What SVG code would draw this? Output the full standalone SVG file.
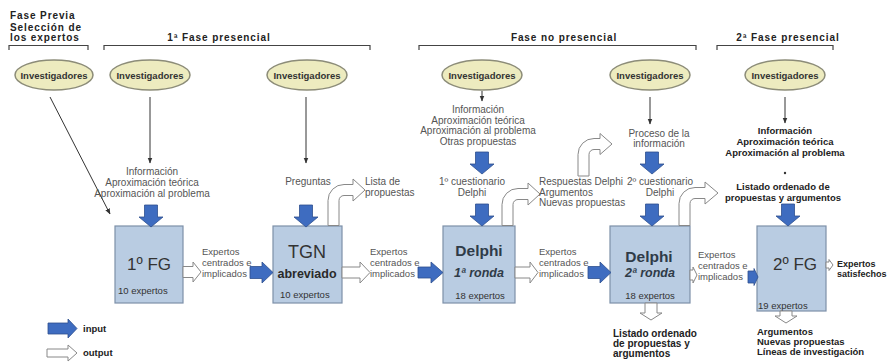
<svg xmlns="http://www.w3.org/2000/svg" width="889" height="362" viewBox="0 0 889 362">
<style>
text{font-family:"Liberation Sans",Arial,sans-serif}
.hdr{font-size:10px;font-weight:bold;letter-spacing:0.9px;fill:#222}
.ell{fill:#EDEBBF;stroke:#8C8C78;stroke-width:1.5}
.elt{font-size:9.5px;font-weight:bold;fill:#333;text-anchor:middle}
.box{fill:#B9CCE2;stroke:#7D90A8;stroke-width:1.2}
.sm{font-size:10px;fill:#555}
.mid{text-anchor:middle}
.gl{font-size:9.5px;fill:#555}
.bd{font-size:9.5px;font-weight:bold;fill:#222}
.bd10{font-size:10px;font-weight:bold;fill:#222}
.big{font-size:17px;fill:#333;text-anchor:middle}
.dl{font-size:15.5px;font-weight:bold;fill:#2F3B48;text-anchor:middle}
.rn{font-size:12.5px;font-weight:bold;font-style:italic;fill:#2F3B48;text-anchor:middle}
.ex{font-size:9.5px;fill:#333}
.blue{fill:#3E6CC0;stroke:#2D4F8E;stroke-width:0.8}
.wht{fill:#fff;stroke:#888;stroke-width:1}
.ln{stroke:#333;stroke-width:1;fill:none}
.br{stroke:#444;stroke-width:1.2;fill:none}
</style>
<defs>
<marker id="ah" viewBox="0 0 10 10" refX="9" refY="5" markerWidth="6" markerHeight="6" orient="auto" markerUnits="userSpaceOnUse"><path d="M0,1 L10,5 L0,9 Z" fill="#333"/></marker>
<path id="bdown" d="M-6.5,0 L6.5,0 L6.5,12 L12,12 L0,22 L-12,12 L-6.5,12 Z"/>
</defs>

<g id="headers">
<text class="hdr" x="10" y="19">Fase Previa</text>
<text class="hdr" x="10" y="31">Selección de</text>
<text class="hdr" x="10" y="41">los expertos</text>
<text class="hdr mid" x="219" y="41">1ª Fase presencial</text>
<text class="hdr mid" x="564" y="41">Fase no presencial</text>
<text class="hdr mid" x="788" y="41">2ª Fase presencial</text>
<path class="br" d="M9,50 V45.5 H88 V50"/>
<path class="br" d="M104,50 V45.5 H370 V50"/>
<path class="br" d="M419,50 V45.5 H696 V50"/>
<path class="br" d="M717,50 V45.5 H833 V50"/>
</g>

<g id="inv1"><ellipse class="ell" cx="54" cy="75" rx="39" ry="15"/><text class="elt" x="54" y="78.5">Investigadores</text></g>
<g id="inv2"><ellipse class="ell" cx="150" cy="75" rx="40" ry="15"/><text class="elt" x="150" y="78.5">Investigadores</text></g>
<g id="inv3"><ellipse class="ell" cx="307" cy="75" rx="40" ry="15"/><text class="elt" x="307" y="78.5">Investigadores</text></g>
<g id="inv4"><ellipse class="ell" cx="482" cy="75" rx="40" ry="15"/><text class="elt" x="482" y="78.5">Investigadores</text></g>
<g id="inv5"><ellipse class="ell" cx="650" cy="75" rx="40" ry="15"/><text class="elt" x="650" y="78.5">Investigadores</text></g>
<g id="inv6"><ellipse class="ell" cx="785" cy="75" rx="40" ry="15"/><text class="elt" x="785" y="78.5">Investigadores</text></g>

<g id="fg1"><rect class="box" x="115" y="226" width="68" height="77"/>
<text class="big" x="149" y="270">1º FG</text>
<text class="ex" x="118" y="294">10 expertos</text></g>
<g id="tgn"><rect class="box" x="273" y="226" width="69" height="77"/>
<text class="big" x="307" y="258" style="font-size:18px">TGN</text>
<text x="307" y="278" style="font-size:12.5px;font-weight:bold;fill:#2a2a2a;text-anchor:middle">abreviado</text>
<text class="ex" x="280" y="298">10 expertos</text></g>
<g id="delphi1"><rect class="box" x="443" y="226" width="72" height="77"/>
<text class="dl" x="479" y="256">Delphi</text>
<text class="rn" x="479" y="277">1ª ronda</text>
<text class="ex mid" x="480" y="299">18 expertos</text></g>
<g id="delphi2"><rect class="box" x="610" y="226" width="80" height="77"/>
<text class="dl" x="649" y="262">Delphi</text>
<text class="rn" x="650" y="277">2ª ronda</text>
<text class="ex mid" x="650" y="299">18 expertos</text></g>
<g id="fg2"><rect class="box" x="757" y="226" width="69" height="85"/>
<text class="big" x="795" y="270">2º FG</text>
<text class="ex" x="758" y="309">19 expertos</text></g>

<g id="connectors">
<line class="ln" x1="50" y1="97" x2="110" y2="214" marker-end="url(#ah)"/>
<line class="ln" x1="150" y1="97" x2="150" y2="163" marker-end="url(#ah)"/>
<line class="ln" x1="306" y1="97" x2="306" y2="163" marker-end="url(#ah)"/>
<line class="ln" x1="482" y1="91" x2="482" y2="101" marker-end="url(#ah)"/>
<line class="ln" x1="650" y1="97" x2="650" y2="124" marker-end="url(#ah)"/>
<line class="ln" x1="785" y1="97" x2="785" y2="123" marker-end="url(#ah)"/>
<circle cx="785" cy="173" r="1.2" fill="#333"/>

<use href="#bdown" class="blue" x="151" y="205"/>
<use href="#bdown" class="blue" x="306" y="205"/>
<use href="#bdown" class="blue" x="482" y="152"/>
<use href="#bdown" class="blue" x="482" y="204"/>
<use href="#bdown" class="blue" x="652" y="152"/>
<use href="#bdown" class="blue" x="652" y="204"/>
<use href="#bdown" class="blue" x="788" y="204"/>

<path class="blue" d="M250,266.5 L262,266.5 L262,262 L273,272.5 L262,283 L262,278.5 L250,278.5 Z"/>
<path class="blue" d="M418,267 L431,267 L431,262 L443,272.5 L431,283 L431,278 L418,278 Z"/>
<path class="blue" d="M588,266.5 L600,266.5 L600,262 L611,272.5 L600,283 L600,278.5 L588,278.5 Z"/>
<path class="blue" d="M748,271 L754,271 L754,268.5 L758,277 L754,285.5 L754,283 L748,283 Z"/>

<path class="wht" d="M183,266.5 L193,266.5 L193,262 L201,272 L193,282 L193,277.5 L183,277.5 Z"/>
<path class="wht" d="M342,267 L360,267 L360,262 L370,272.5 L360,283 L360,278 L342,278 Z"/>
<path class="wht" d="M515,267 L530,267 L530,262 L538,272.5 L530,283 L530,278 L515,278 Z"/>
<path class="wht" d="M690,270 L693,270 L693,267 L697,275 L693,283 L693,280 L690,280 Z"/>
<path class="wht" d="M826,262 L829,262 L829,259.5 L833,265 L829,270.5 L829,268 L826,268 Z"/>

<path class="wht" d="M645,303 L657,303 L657,313 L662,313 L651,320 L640,313 L645,313 Z"/>
<path class="wht" d="M780,311 L792,311 L792,316 L797,316 L786,323 L775,316 L780,316 Z"/>

<path class="wht" d="M328,225.5 L328,200.5 A16,16 0 0 1 344,184.5 L353,184.5 L353,179 L365,190 L353,201 L353,195.5 L344,195.5 A5,5 0 0 0 339,200.5 L339,225.5 Z"/>
<path class="wht" d="M502,225.5 L502,204.5 A16,16 0 0 1 518,188.5 L528,188.5 L528,183 L540,194 L528,205 L528,199.5 L518,199.5 A5,5 0 0 0 513,204.5 L513,225.5 Z"/>
<path class="wht" d="M578,176 L578,154.5 A16,16 0 0 1 594,138.5 L600,138.5 L600,133.5 L612,144 L600,154.5 L600,149.5 L594,149.5 A5,5 0 0 0 589,154.5 L589,176 Z"/>
<path class="wht" d="M679,225.5 L679,203.5 A16,16 0 0 1 695,187.5 L705,187.5 L705,182 L718,193 L705,204 L705,198.5 L695,198.5 A5,5 0 0 0 690,203.5 L690,225.5 Z"/>
</g>

<g id="labels">
<text class="sm mid" x="152" y="175">Información</text>
<text class="sm mid" x="152" y="186">Aproximación teórica</text>
<text class="sm mid" x="152" y="197">Aproximación al problema</text>

<text class="sm mid" x="308" y="185">Preguntas</text>
<text class="sm" x="365" y="185">Lista de</text>
<text class="sm" x="365" y="196">propuestas</text>

<text class="sm mid" x="478" y="113">Información</text>
<text class="sm mid" x="478" y="124">Aproximación teórica</text>
<text class="sm mid" x="478" y="134">Aproximación al problema</text>
<text class="sm mid" x="478" y="145">Otras propuestas</text>
<text class="sm mid" x="472" y="185">1º cuestionario</text>
<text class="sm mid" x="472" y="196">Delphi</text>

<text class="sm" x="539" y="185">Respuestas Delphi</text>
<text class="sm" x="539" y="196">Argumentos</text>
<text class="sm" x="539" y="206">Nuevas propuestas</text>

<text class="sm mid" x="659" y="137">Proceso de la</text>
<text class="sm mid" x="659" y="147">información</text>
<text class="sm mid" x="660" y="185">2º cuestionario</text>
<text class="sm mid" x="660" y="196">Delphi</text>

<text class="bd mid" x="785" y="134">Información</text>
<text class="bd mid" x="785" y="145">Aproximación teórica</text>
<text class="bd mid" x="785" y="156">Aproximación al problema</text>
<text class="bd mid" x="783" y="190">Listado ordenado de</text>
<text class="bd mid" x="783" y="201">propuestas y argumentos</text>

<text class="gl" x="202" y="255">Expertos</text>
<text class="gl" x="202" y="266">centrados e</text>
<text class="gl" x="202" y="277">implicados</text>
<text class="gl" x="370" y="255">Expertos</text>
<text class="gl" x="370" y="266">centrados e</text>
<text class="gl" x="370" y="277">implicados</text>
<text class="gl" x="539" y="255">Expertos</text>
<text class="gl" x="539" y="266">centrados e</text>
<text class="gl" x="539" y="277">implicados</text>
<text class="gl" x="698" y="258">Expertos</text>
<text class="gl" x="698" y="269">centrados e</text>
<text class="gl" x="698" y="280">implicados</text>
<text class="bd" x="837" y="267" style="font-size:9px">Expertos</text>
<text class="bd" x="837" y="277" style="font-size:9px">satisfechos</text>

<text class="bd10" x="613" y="337">Listado ordenado</text>
<text class="bd10" x="613" y="347">de propuestas y</text>
<text class="bd10" x="613" y="357">argumentos</text>
<text class="bd" x="757" y="335">Argumentos</text>
<text class="bd" x="757" y="345">Nuevas propuestas</text>
<text class="bd" x="757" y="355">Líneas de investigación</text>
</g>

<g id="legend">
<path class="blue" d="M48,323 L68,323 L68,319 L77,328.5 L68,338 L68,334 L48,334 Z"/>
<text class="bd" x="83" y="332">input</text>
<path class="wht" d="M47,349 L68,349 L68,345 L77,353 L68,361 L68,357 L47,357 Z"/>
<text class="bd" x="83" y="356">output</text>
</g>
</svg>
